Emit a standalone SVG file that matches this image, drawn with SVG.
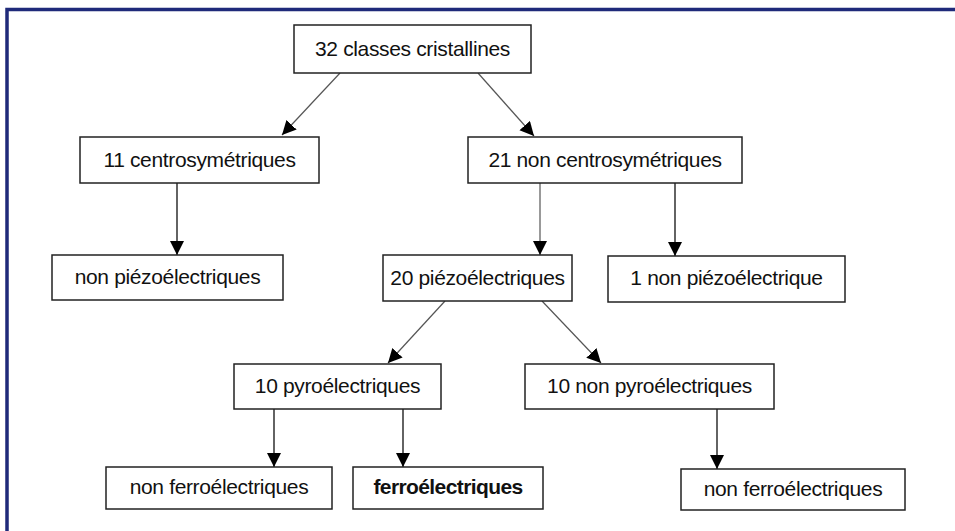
<svg xmlns="http://www.w3.org/2000/svg" width="955" height="531" viewBox="0 0 955 531">
<style>
.box{fill:#fff;stroke:#222;stroke-width:1.5}
.lbl{font-family:"Liberation Sans",Arial,sans-serif;font-size:21px;fill:#111;text-anchor:middle;letter-spacing:-0.35px}
.b{font-weight:bold;letter-spacing:-0.6px}
.c{stroke:#222;stroke-width:1.4;fill:none;marker-end:url(#ah)}
.g{stroke:#555;stroke-width:1.2}
</style>
<defs>
<marker id="ah" markerUnits="userSpaceOnUse" markerWidth="15" markerHeight="15" refX="14" refY="7" orient="auto">
<path d="M0,0 L14,7 L0,14 z" fill="#000"/>
</marker>
</defs>
<rect x="0" y="0" width="955" height="531" fill="#fff"/>
<rect x="7" y="9.5" width="1000" height="600" fill="none" stroke="#1f2a7a" stroke-width="3.5"/>
<g id="connectors">
<line class="c g" x1="340" y1="73" x2="282" y2="135"/>
<line class="c g" x1="478" y1="73" x2="534" y2="136"/>
<line class="c" x1="177" y1="183" x2="177" y2="255"/>
<line class="c g" x1="540" y1="183" x2="540" y2="255"/>
<line class="c" x1="675" y1="183" x2="675" y2="256"/>
<line class="c g" x1="445" y1="301" x2="388" y2="363"/>
<line class="c g" x1="542" y1="301" x2="601" y2="363"/>
<line class="c" x1="274" y1="409" x2="274" y2="467"/>
<line class="c" x1="403" y1="409" x2="403" y2="467"/>
<line class="c" x1="717" y1="409" x2="717" y2="469"/>
</g>
<g id="n32"><rect class="box" x="294" y="25" width="237" height="48"/><text class="lbl" x="412.5" y="55.5">32 classes cristallines</text></g>
<g id="n11"><rect class="box" x="80" y="137" width="239" height="46"/><text class="lbl" x="199.5" y="166.5">11 centrosymétriques</text></g>
<g id="n21"><rect class="box" x="468" y="137" width="274" height="46"/><text class="lbl" x="605" y="166.5">21 non centrosymétriques</text></g>
<g id="nnp"><rect class="box" x="52" y="255" width="231" height="45"/><text class="lbl" x="167.5" y="284">non piézoélectriques</text></g>
<g id="n20"><rect class="box" x="383" y="255" width="189" height="46"/><text class="lbl" x="477.5" y="284.5">20 piézoélectriques</text></g>
<g id="n1"><rect class="box" x="608" y="256" width="237" height="46"/><text class="lbl" x="726.5" y="285">1 non piézoélectrique</text></g>
<g id="n10p"><rect class="box" x="234" y="364" width="207" height="45"/><text class="lbl" x="337.5" y="393">10 pyroélectriques</text></g>
<g id="n10np"><rect class="box" x="525" y="364" width="249" height="45"/><text class="lbl" x="649.5" y="393">10 non pyroélectriques</text></g>
<g id="nnf1"><rect class="box" x="106" y="467" width="226" height="42"/><text class="lbl" x="219" y="494">non ferroélectriques</text></g>
<g id="nf"><rect class="box" x="353" y="467" width="190" height="42"/><text class="lbl b" x="448" y="494">ferroélectriques</text></g>
<g id="nnf2"><rect class="box" x="681" y="469" width="224" height="41"/><text class="lbl" x="793" y="496">non ferroélectriques</text></g>
</svg>
